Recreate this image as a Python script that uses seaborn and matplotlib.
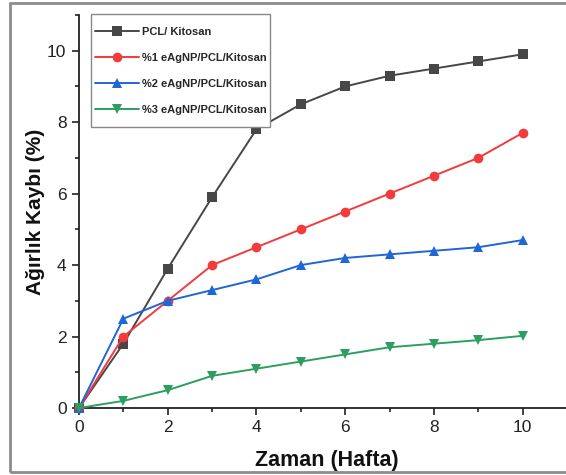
import matplotlib
matplotlib.use("Agg")
import matplotlib.pyplot as plt
from matplotlib.patches import Rectangle
from matplotlib.ticker import MultipleLocator
import seaborn as sns
import pandas as pd

weeks = [0, 1, 2, 3, 4, 5, 6, 7, 8, 9, 10]
series_names = ["PCL/ Kitosan", "%1 eAgNP/PCL/Kitosan", "%2 eAgNP/PCL/Kitosan", "%3 eAgNP/PCL/Kitosan"]
pcl = [0, 1.8, 3.9, 5.9, 7.8, 8.5, 9.0, 9.3, 9.5, 9.7, 9.9]
ag1 = [0, 2.0, 3.0, 4.0, 4.5, 5.0, 5.5, 6.0, 6.5, 7.0, 7.7]
ag2 = [0, 2.5, 3.0, 3.3, 3.6, 4.0, 4.2, 4.3, 4.4, 4.5, 4.7]
ag3 = [0, 0.2, 0.5, 0.9, 1.1, 1.3, 1.5, 1.7, 1.8, 1.9, 2.02]

colors = ["#474747", "#f23b3d", "#1f66d6", "#2c9f5f"]
markers = ["s", "o", "^", "v"]

rows = []
for name, vals in zip(series_names, [pcl, ag1, ag2, ag3]):
    for w, v in zip(weeks, vals):
        rows.append({"Zaman": w, "Kayip": v, "Seri": name})
df = pd.DataFrame(rows)

sns.set_style("ticks")
plt.rcParams["font.family"] = ["Liberation Sans", "DejaVu Sans"]

W, H = 566, 475
fig = plt.figure(figsize=(5.66, 4.75), dpi=100)
ax = fig.add_axes([79 / W, 67 / H, (567 - 79) / W, 393 / H])

sns.lineplot(data=df, x="Zaman", y="Kayip", hue="Seri", style="Seri",
             palette=dict(zip(series_names, colors)),
             markers=dict(zip(series_names, markers)),
             dashes=False, markersize=7, linewidth=1.4,
             markeredgewidth=0, ax=ax, clip_on=False, zorder=3)

ax.set_xlim(0, 11)
ax.set_ylim(0, 11)
ax.xaxis.set_major_locator(MultipleLocator(2))
ax.xaxis.set_minor_locator(MultipleLocator(1))
ax.yaxis.set_major_locator(MultipleLocator(2))
ax.yaxis.set_minor_locator(MultipleLocator(1))
ax.set_xticks([0, 2, 4, 6, 8, 10])
ax.set_yticks([0, 2, 4, 6, 8, 10])
ax.tick_params(which="major", direction="out", length=5, width=1.2, labelsize=12.5, color="#222222", labelcolor="#222222", pad=4)
ax.tick_params(which="minor", direction="out", length=3, width=1.2, color="#222222")
for s in ["top", "right"]:
    ax.spines[s].set_visible(False)
for s in ["left", "bottom"]:
    ax.spines[s].set_linewidth(1.3)
    ax.spines[s].set_color("#222222")

ax.set_xlabel("Zaman (Hafta)", fontsize=15.5, fontweight="bold", color="#111111")
ax.set_ylabel("Ağırlık Kaybı (%)", fontsize=15, fontweight="bold", color="#111111")
ax.xaxis.set_label_coords((327 - 79) / 488, -(450 - 408) / 393)
ax.yaxis.set_label_coords(-(79 - 45) / 488, (408 - 212) / 393)

# legend frame drawn as a rectangle behind the legend entries
ax.add_patch(Rectangle((91 / W, 1 - 127 / H), (270 - 91) / W, (127 - 14) / H,
                       transform=fig.transFigure, fill=True, facecolor="white",
                       edgecolor="#888888", linewidth=1.0, clip_on=False, zorder=4))

leg = ax.legend(loc="upper left", bbox_to_anchor=(95 / W, 1 - 27 / H),
                bbox_transform=fig.transFigure, frameon=False,
                prop={"weight": "bold", "size": 8}, handlelength=4.0,
                handletextpad=0.27, labelspacing=1.44, borderpad=0,
                borderaxespad=0, title=None)
leg.set_zorder(5)

fig.patches.append(Rectangle((10 / W, 3 / H), 600 / W, 469 / H,
                             transform=fig.transFigure, fill=False,
                             edgecolor="#8c8c8c", linewidth=2.0, figure=fig))

fig.savefig("out.png", dpi=100)
